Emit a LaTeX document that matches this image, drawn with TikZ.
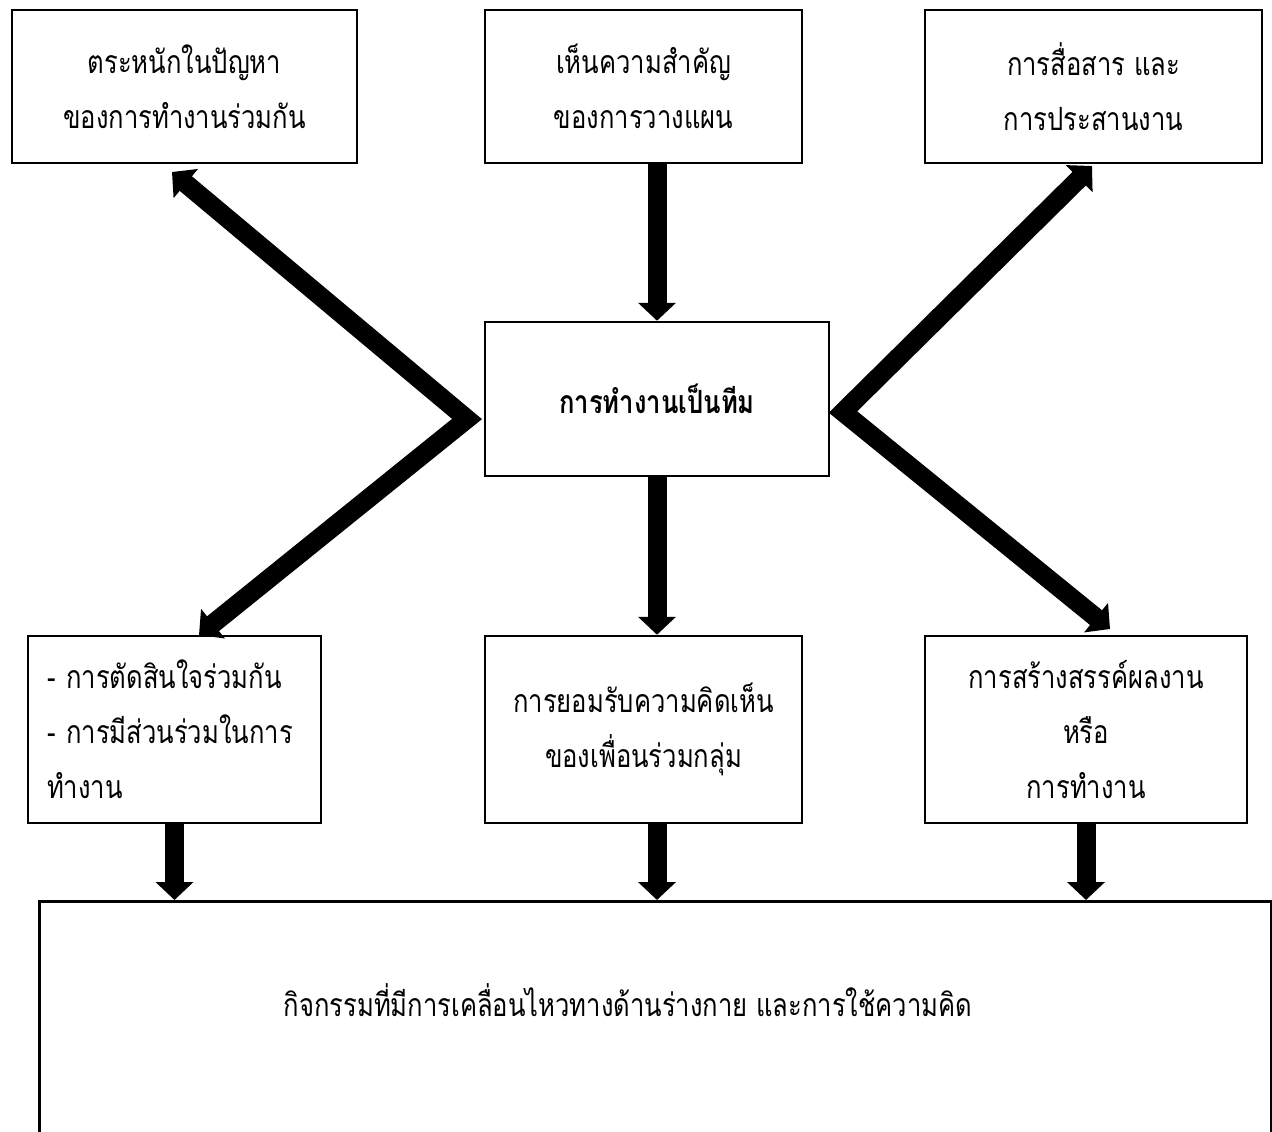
\documentclass[tikz,border=0pt]{standalone}
\usepackage{fontspec}
\newfontfamily\thai[Script=Thai, FakeStretch=0.8]{Loma}
\usetikzlibrary{arrows.meta}
\begin{document}
\begin{tikzpicture}[x=1pt,y=-1pt,
  box/.style={draw, line width=2.5pt, inner sep=0pt, align=center, font=\thai\fontsize{32}{55}\selectfont},
  fat/.style={line width=19pt, line join=miter, arrows={-Triangle[width=37pt,length=18pt]}},
  fatboth/.style={line width=19pt, line join=miter, arrows={Triangle[width=37pt,length=18pt]-Triangle[width=37pt,length=18pt]}},
  txt/.style={font=\thai\fontsize{32}{55}\selectfont, inner sep=0pt}]
\useasboundingbox (0,0) rectangle (1272,1132);
\clip (0,0) rectangle (1272,1132);
\fill[white] (0,0) rectangle (1272,1132);
% top row
\node[box, minimum width=345pt, minimum height=153pt] (tl) at (184.5,86.5) {ตระหนักในปัญหา\\ของการทำงานร่วมกัน};
\node[box, minimum width=317pt, minimum height=153pt] (tc) at (643.5,86.5) {เห็นความสำคัญ\\ของการวางแผน};
\node[box, minimum width=337pt, minimum height=153pt] (tr) at (1093.5,86.5) {การสื่อสาร และ\\การประสานงาน};
% centre
\node[box, minimum width=344pt, minimum height=154pt, font=\thai\bfseries\fontsize{32}{55}\selectfont] (c) at (657,399) {การทำงานเป็นทีม};
% middle row
\node[box, minimum width=293pt, minimum height=187pt, text width=255pt, inner xsep=19pt, align=left] (bl) at (174.5,729.5) {- การตัดสินใจร่วมกัน\\- การมีส่วนร่วมในการ\\ทำงาน};
\node[box, minimum width=317pt, minimum height=187pt] (bc) at (643.5,729.5) {การยอมรับความคิดเห็น\\ของเพื่อนร่วมกลุ่ม};
\node[box, minimum width=322pt, minimum height=187pt] (br) at (1086,729.5) {การสร้างสรรค์ผลงาน\\หรือ\\การทำงาน};
% bottom
\node[box, minimum width=1232pt, minimum height=260pt, anchor=north west] (bot) at (38,900) {};
\node[txt] (bott) at (628,1000) {กิจกรรมที่มีการเคลื่อนไหวทางด้านร่างกาย และการใช้ความคิด};
% connectors
\draw[fat] (tc.south -| c.north) -- (c.north);
\draw[fat] (c.south) -- (c.south |- bc.north);
\draw[fat] (bl.south) -- (bl.south |- bot.north);
\draw[fat] (c.south |- bc.south) -- (c.south |- bot.north);
\draw[fat] (br.south) -- (br.south |- bot.north);
\coordinate (lv) at (467,419);
\coordinate (tlt) at (172,172);
\coordinate (blt) at (199,635);
\coordinate (rv) at (843,412);
\coordinate (trt) at (1092,166);
\coordinate (brt) at (1110,629);
\draw[fatboth] (tlt) -- (lv) -- (blt);
\draw[fatboth] (trt) -- (rv) -- (brt);
\end{tikzpicture}
\end{document}
